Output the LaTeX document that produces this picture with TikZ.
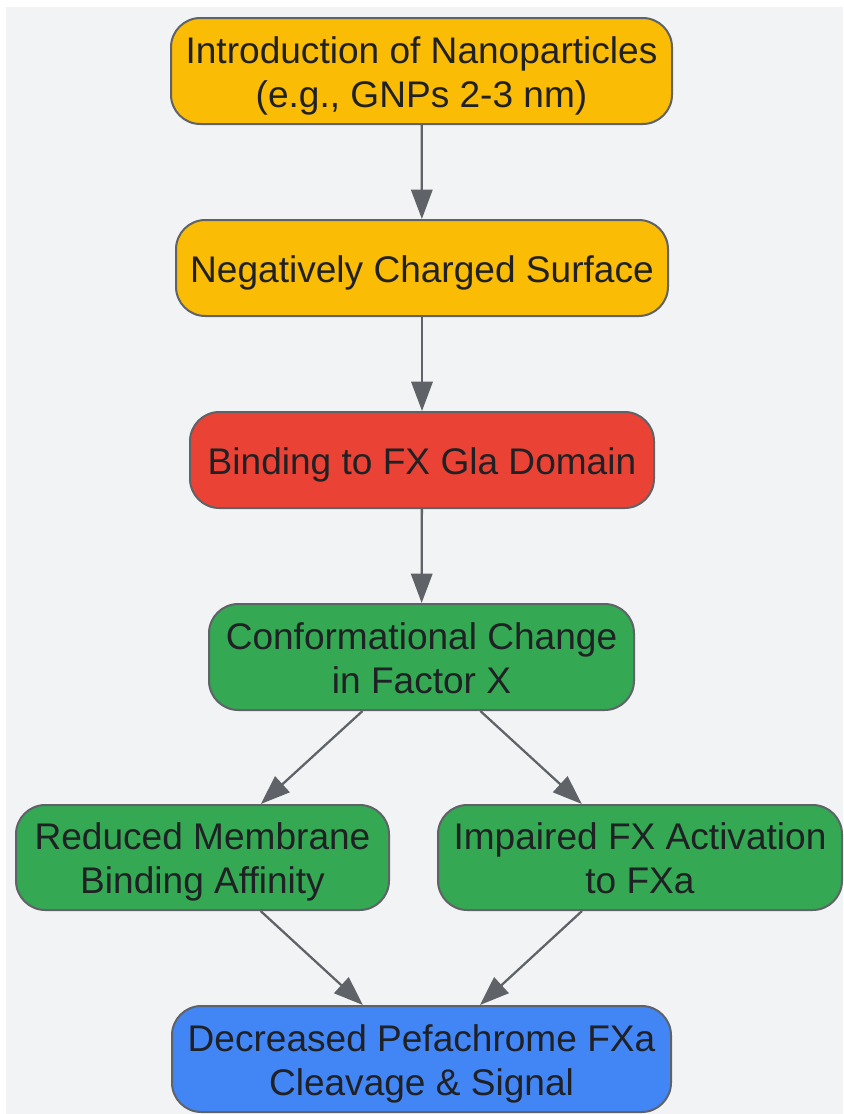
\documentclass[tikz,border=0pt]{standalone}
\usepackage{fontspec}
\setmainfont{Liberation Sans}
\usetikzlibrary{arrows.meta}
\definecolor{bgcol}{HTML}{F1F3F4}
\definecolor{edgecol}{HTML}{5F6368}
\definecolor{txtcol}{HTML}{202124}
\definecolor{yelcol}{HTML}{FBBC05}
\definecolor{redcol}{HTML}{EA4335}
\definecolor{grncol}{HTML}{34A853}
\definecolor{blucol}{HTML}{4285F4}
% strut for one line of box text
\newcommand{\bxs}{\rule[-6pt]{0pt}{33pt}}
\tikzset{
  box/.style={draw=edgecol, line width=1.5pt, rounded corners=22pt, inner sep=0pt,
    align=center, text=txtcol, font=\fontsize{27.8pt}{33pt}\selectfont},
  arr/.style={draw=edgecol, line width=1.7pt, -{Triangle[length=22pt,width=16pt]}}
}
\begin{document}
\begin{tikzpicture}[x=0.75pt,y=0.75pt,yscale=-1,xscale=1]
\useasboundingbox (0,0) rectangle (843,1114);
\fill[bgcol] (6,7) rectangle (843,1114);
% nodes
\node (intro) at (421.5,71) [box, fill=yelcol, minimum width=375.75pt, minimum height=79.5pt] {\bxs Introduction of Nanoparticles\\\bxs (e.g., GNPs 2-3 nm)};
\node (neg) at (422,268) [box, fill=yelcol, minimum width=369pt, minimum height=72pt] {\bxs Negatively Charged Surface};
\node (gla) at (422,460) [box, fill=redcol, minimum width=348pt, minimum height=72pt] {\bxs Binding to FX Gla Domain};
\node (conf) at (421.5,657) [box, fill=grncol, minimum width=318.75pt, minimum height=79.5pt] {\bxs Conformational Change\\\bxs in Factor X};
\node (memb) at (202.5,857.5) [box, fill=grncol, minimum width=279.75pt, minimum height=78.75pt] {\bxs Reduced Membrane\\\bxs Binding Affinity};
\node (activ) at (640,857.5) [box, fill=grncol, minimum width=303pt, minimum height=78.75pt] {\bxs Impaired FX Activation\\\bxs to FXa};
\node (signal) at (421.5,1059) [box, fill=blucol, minimum width=374.25pt, minimum height=79.5pt] {\bxs Decreased Pefachrome FXa\\\bxs Cleavage \& Signal};
% arrows
\draw[arr] (intro) -- (neg);
\draw[arr] (neg) -- (gla);
\draw[arr] (gla) -- (conf);
\draw[arr] (conf) -- (memb);
\draw[arr] (conf) -- (activ);
\draw[arr] (memb) -- (signal);
\draw[arr] (activ) -- (signal);
\end{tikzpicture}
\end{document}
